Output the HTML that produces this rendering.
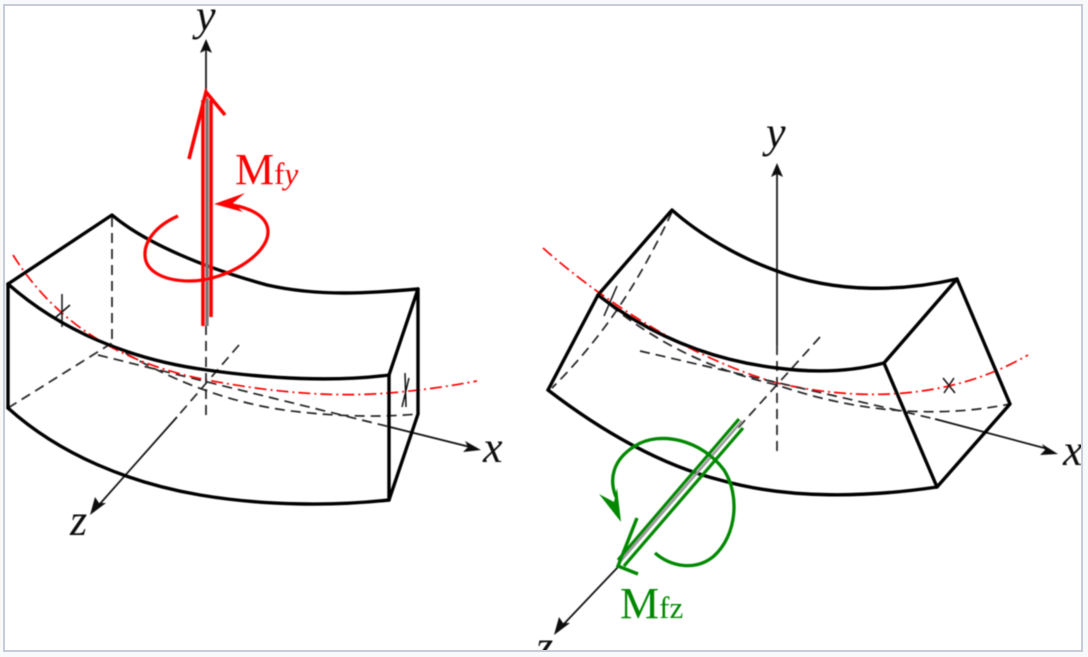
<!DOCTYPE html>
<html lang="en">
<head>
<meta charset="utf-8">
<title>Bending moments Mfy and Mfz on a curved beam</title>
<style>
html,body{margin:0;padding:0;width:1088px;height:657px;overflow:hidden;background:#f8f9fa}
svg{display:block}
text{font-family:"Liberation Serif",serif}
.b{fill:none;stroke:#000;stroke-width:3.4;stroke-linejoin:round;stroke-linecap:round}
.d{fill:none;stroke:#222;stroke-width:1.7;stroke-dasharray:10 6}
.a{fill:none;stroke:#111;stroke-width:1.7}
.r{fill:none;stroke:#f00;stroke-width:1.7;stroke-dasharray:12 4 2 4}
.t{fill:none;stroke:#111;stroke-width:1.5}
</style>
</head>
<body>
<svg xmlns="http://www.w3.org/2000/svg" width="1088" height="657" viewBox="0 0 1088 657">
<defs>
<clipPath id="inner"><rect x="5" y="6" width="1076" height="644"/></clipPath>
<filter id="soft" x="-5%" y="-5%" width="110%" height="110%"><feGaussianBlur stdDeviation="0.45"/></filter>
</defs>
<rect x="4" y="5" width="1078" height="646" fill="#fff" stroke="#c8ccd8" stroke-width="2"/>
<g clip-path="url(#inner)"><g filter="url(#soft)">

<g>
  <g>
    <path class="d" d="M112,217 L112,345"/>
    <path class="d" d="M8,408 L112,343"/>
    <path class="d" d="M112,345 C165,378 230,405 300,412 C345,417 385,417 418,414"/>
  </g>
  <path class="r" d="M13,255 C60,330 130,365 207,380 C280,394 340,397 389,393 C425,390 450,386 477,381"/>
  <g>
    <path class="t" d="M62,294 L62,327 M55,318 L70,305"/>
    <path class="t" d="M409,378 L402,407 M405,373 L406,407"/>
  </g>
  <g>
    <path class="d" d="M98,355 L390,427"/>
    <path class="a" d="M390,427 L470,447"/>
    <path d="M481,450 L463,452 L468,447 L465,441 Z" fill="#111"/>
  </g>
  <g>
    <path class="d" d="M239,345 L177,417"/>
    <path class="a" d="M177,417 L98,506"/>
    <path d="M90,515 L95,497 L99,503 L106,503 Z" fill="#111"/>
  </g>
  <g>
    <path class="a" d="M206,50 L206,100" stroke="#555"/>
    <path d="M206,39 L212,53 L206,50 L200,53 Z" fill="#111"/>
    <path class="d" d="M206,325 L206,420"/>
  </g>
  <g>
    <path class="b" d="M8,284 L112,215 C145,243 205,268 267,285 C320,297 370,293 418,289"/>
    <path class="b" d="M8,284 C60,330 130,360 207,370 C270,379 335,382 389,375"/>
    <path class="b" d="M8,408 C60,455 130,483 200,495 C265,506 335,506 389,500"/>
    <path class="b" d="M8,284 L8,408 M389,375 L389,500 M418,289 L418,414 M389,375 L418,289 M389,500 L418,414"/>
  </g>
  <g>
    <path d="M207,98 L207,326" fill="none" stroke="#777" stroke-width="3.4"/>
    <path d="M203,100 L203,326 M211,100 L211,317" fill="none" stroke="#f00" stroke-width="3.6"/>
    <path d="M189,159 L206,92 L225,115" fill="none" stroke="#f00" stroke-width="3.6"/>
    <path d="M178,216 C155,226 144,242 145,256 C146,272 165,281 190,281 C225,281 268,255 268,232 C268,216 250,208 232,205" fill="none" stroke="#f00" stroke-width="3.2"/>
    <path d="M214,204 L245,193 L233,203 L243,212 Z" fill="#f00"/>
  </g>
  <text x="196" y="30" font-size="44" font-style="italic" fill="#111">y</text>
  <text x="483" y="462" font-size="44" font-style="italic" fill="#111">x</text>
  <text x="70" y="535" font-size="44" font-style="italic" fill="#111">z</text>
  <text x="235" y="184" font-size="44" fill="#f00">M<tspan font-size="31">f</tspan><tspan font-size="31" font-style="italic">y</tspan></text>
</g>

<g>
  <g>
    <path class="d" d="M672,212 C640,280 605,335 552,388"/>
    <path class="d" d="M598,295 C650,340 710,370 777,385 C850,410 930,420 1010,404"/>
  </g>
  <path class="r" d="M543,248 C590,290 680,355 777,383 C860,402 950,400 1028,355"/>
  <g>
    <path class="t" d="M617,286 L604,316"/>
    <path class="t" d="M943,378 L955,393 M954,378 L944,393"/>
  </g>
  <g>
    <path class="d" d="M640,351 L935,419"/>
    <path class="a" d="M935,419 L1048,449"/>
    <path d="M1058,454 L1040,455 L1045,450 L1042,444 Z" fill="#111"/>
  </g>
  <g>
    <path class="d" d="M820,337 L738,428"/>
    <path class="a" d="M618,567 L561,627"/>
    <path d="M554,635 L559,617 L563,623 L570,623 Z" fill="#111"/>
  </g>
  <g>
    <path class="a" d="M777,174 L777,345"/>
    <path d="M777,163 L783,177 L777,174 L771,177 Z" fill="#111"/>
    <path class="d" d="M777,345 L777,454"/>
  </g>
  <g>
    <path class="b" d="M598,295 L672,210 C700,235 740,258 777,271 C835,293 900,292 957,279"/>
    <path class="b" d="M598,295 C650,335 710,360 777,368 C815,373 850,372 884,363"/>
    <path class="b" d="M548,390 C600,430 660,465 720,480 C790,500 870,497 937,487"/>
    <path class="b" d="M598,295 L548,390 M884,363 L957,279 M884,363 L937,487 M957,279 L1010,404 M937,487 L1010,404"/>
  </g>
  <g>
    <path d="M742,421 L619,563" fill="none" stroke="#999" stroke-width="2.4"/>
    <path d="M739,419 L618,560 M743,428 L624,566" fill="none" stroke="#080" stroke-width="3.2"/>
    <path d="M637,518 L618,566 L638,574" fill="none" stroke="#080" stroke-width="3.4"/>
    <path d="M655,553 C670,566 695,572 714,556 C737,535 740,495 724,470 C702,440 660,430 635,446 C612,460 609,480 616,497" fill="none" stroke="#080" stroke-width="3.3"/>
    <path d="M621,522 L599,494 L614,502 L617,488 Z" fill="#080"/>
  </g>
  <text x="766" y="147" font-size="44" font-style="italic" fill="#111">y</text>
  <text x="1063" y="465" font-size="44" font-style="italic" fill="#111">x</text>
  <text x="536" y="661" font-size="44" font-style="italic" fill="#111">z</text>
  <text x="620" y="618" font-size="44" fill="#080">M<tspan font-size="31">fz</tspan></text>
</g>

</g></g>
</svg>
</body>
</html>
